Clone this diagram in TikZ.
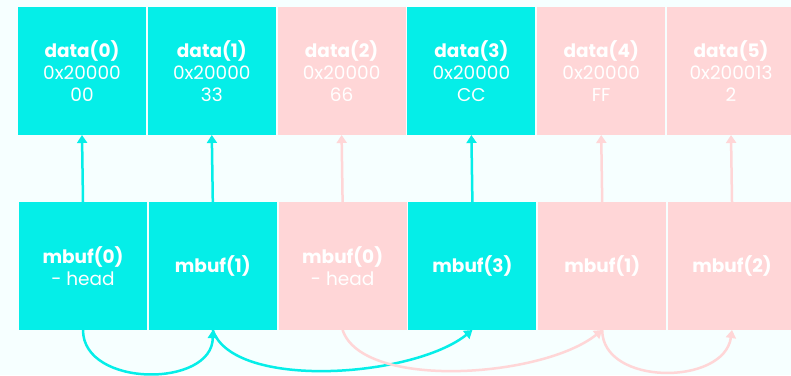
\documentclass[tikz,border=0pt]{standalone}
\usepackage{fontspec}
\setmainfont{Poppins}
\usetikzlibrary{positioning,arrows.meta}

\definecolor{bufcyan}{RGB}{5,238,232}
\definecolor{bufpink}{RGB}{255,214,215}
\definecolor{bgpale}{RGB}{246,255,255}

\tikzset{
  cell/.style={minimum width=128pt,minimum height=128pt,inner sep=0pt,outer sep=0pt,
    text=white,align=center,font=\fontsize{18.5}{22}\selectfont},
  used/.style={cell,fill=bufcyan},
  free/.style={cell,fill=bufpink},
  link/.style={line width=2.5pt,-{Triangle[width=10pt,length=8pt]}},
}

\begin{document}
\begin{tikzpicture}[x=1pt,y=-1pt]
 \fill[bgpale] (0,0) rectangle (791,375);
 \clip (0,0) rectangle (791,375);
 % data buffers
 \node[used] (d0) at (82,71) {\textbf{data(0)}\\0x20000\\00};
 \node[used,right=1.8pt of d0] (d1) {\textbf{data(1)}\\0x20000\\33};
 \node[free,right=1.8pt of d1] (d2) {\textbf{data(2)}\\0x20000\\66};
 \node[used,right=1.8pt of d2] (d3) {\textbf{data(3)}\\0x20000\\CC};
 \node[free,right=1.8pt of d3] (d4) {\textbf{data(4)}\\0x20000\\FF};
 \node[free,right=1.8pt of d4] (d5) {\textbf{data(5)}\\0x200013\\2};
 % mbufs
 \node[used] (m0) at (83,266) {\textbf{mbuf(0)}\\- head};
 \node[used,right=1.8pt of m0] (m1) {\textbf{mbuf(1)}};
 \node[free,right=1.8pt of m1] (m2) {\textbf{mbuf(0)}\\- head};
 \node[used,right=1.8pt of m2] (m3) {\textbf{mbuf(3)}};
 \node[free,right=1.8pt of m3] (m4) {\textbf{mbuf(1)}};
 \node[free,right=1.8pt of m4] (m5) {\textbf{mbuf(2)}};
 % pointers to data
 \foreach \i/\c in {0/bufcyan,1/bufcyan,2/bufpink,3/bufcyan,4/bufpink,5/bufpink}
   \draw[link,\c] (m\i.north) -- (d\i.south);
 % chains
 \draw[link,bufcyan] (m0.south) .. controls +(0,58) and +(0,58) .. (m1.south);
 \draw[link,bufcyan] (m1.south) .. controls +(20,60) and +(-60,48) .. (m3.south);
 \draw[link,bufpink] (m2.south) .. controls +(20,60) and +(-60,48) .. (m4.south);
 \draw[link,bufpink] (m4.south) .. controls +(0,56) and +(-8,56) .. (m5.south);
\end{tikzpicture}
\end{document}
